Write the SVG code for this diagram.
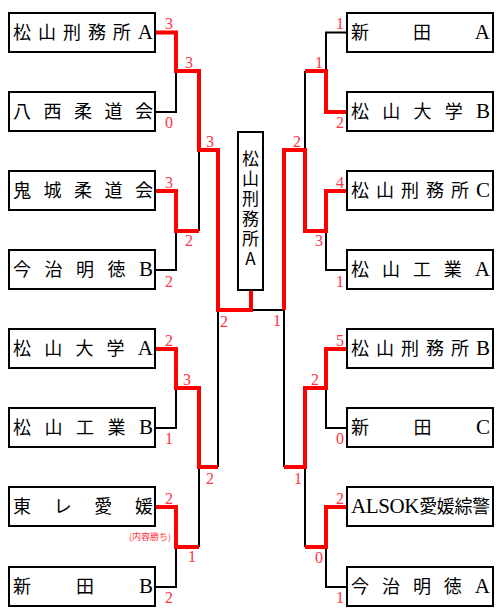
<svg xmlns="http://www.w3.org/2000/svg" width="504" height="614" viewBox="0 0 504 614">
<style>
.box{fill:#fff;stroke:#000;stroke-width:2}
.nm{font-family:'Liberation Serif','Noto Sans CJK JP',serif;font-size:18px;fill:#000}
.la{font-size:21px}
.bk{fill:none;stroke:#000;stroke-width:2}
.rd{fill:none;stroke:#ff0000;stroke-width:4}
.sc{font-family:'Liberation Serif',serif;font-size:16px;fill:#ff3344;text-anchor:middle}
.note{font-family:'Noto Sans CJK JP',sans-serif;font-size:9px;fill:#ff3344;text-anchor:middle}
.ch{font-family:'Noto Sans CJK JP',sans-serif;font-size:17px;fill:#000;writing-mode:vertical-rl;text-orientation:upright;letter-spacing:3px}
</style>
<rect width="504" height="614" fill="#fff"/>
<g id="connectors">
<path class="bk" d="M155,112H176V71M155,270H176V231M199,150V231M155,428H176V388M155,587H176V547M199,467V547M218,310V467M251,310H284M284,310V467M347,32.5H326V71M305,71V150M347,270H326V231M347,428H326V388M347,587H326V547M305,467V547"/>
<path class="rd" d="M155,32.5H176V71H199V150H218V310H251V290"/>
<path class="rd" d="M155,191H176V231H199"/>
<path class="rd" d="M155,349H176V388H199V467H218"/>
<path class="rd" d="M155,507H176V547H199"/>
<path class="rd" d="M284,310V150H305V231H326V191H347"/>
<path class="rd" d="M347,112H326V71H305"/>
<path class="rd" d="M284,467H305V388H326V349H347"/>
<path class="rd" d="M305,547H326V507H347"/>
</g>
<g id="L1"><rect class="box" x="9" y="13" width="146" height="39"/><text class="nm" x="13" y="39" textLength="140" lengthAdjust="spacing">松山刑務所<tspan class="la">A</tspan></text></g>
<g id="L2"><rect class="box" x="9" y="92" width="146" height="39"/><text class="nm" x="13" y="118" textLength="140" lengthAdjust="spacing">八西柔道会</text></g>
<g id="L3"><rect class="box" x="9" y="171" width="146" height="39"/><text class="nm" x="13" y="197" textLength="140" lengthAdjust="spacing">鬼城柔道会</text></g>
<g id="L4"><rect class="box" x="9" y="250" width="146" height="39"/><text class="nm" x="13" y="276" textLength="140" lengthAdjust="spacing">今治明徳<tspan class="la">B</tspan></text></g>
<g id="L5"><rect class="box" x="9" y="329" width="146" height="39"/><text class="nm" x="13" y="355" textLength="140" lengthAdjust="spacing">松山大学<tspan class="la">A</tspan></text></g>
<g id="L6"><rect class="box" x="9" y="408" width="146" height="39"/><text class="nm" x="13" y="434" textLength="140" lengthAdjust="spacing">松山工業<tspan class="la">B</tspan></text></g>
<g id="L7"><rect class="box" x="9" y="487" width="146" height="39"/><text class="nm" x="13" y="513" textLength="140" lengthAdjust="spacing">東レ愛媛</text></g>
<g id="L8"><rect class="box" x="9" y="567" width="146" height="39"/><text class="nm" x="13" y="593" textLength="140" lengthAdjust="spacing">新田<tspan class="la">B</tspan></text></g>
<g id="R1"><rect class="box" x="347" y="13" width="146" height="39"/><text class="nm" x="351" y="39" textLength="139" lengthAdjust="spacing">新田<tspan class="la">A</tspan></text></g>
<g id="R2"><rect class="box" x="347" y="92" width="146" height="39"/><text class="nm" x="351" y="118" textLength="139" lengthAdjust="spacing">松山大学<tspan class="la">B</tspan></text></g>
<g id="R3"><rect class="box" x="347" y="171" width="146" height="39"/><text class="nm" x="351" y="197" textLength="139" lengthAdjust="spacing">松山刑務所<tspan class="la">C</tspan></text></g>
<g id="R4"><rect class="box" x="347" y="250" width="146" height="39"/><text class="nm" x="351" y="276" textLength="139" lengthAdjust="spacing">松山工業<tspan class="la">A</tspan></text></g>
<g id="R5"><rect class="box" x="347" y="329" width="146" height="39"/><text class="nm" x="351" y="355" textLength="139" lengthAdjust="spacing">松山刑務所<tspan class="la">B</tspan></text></g>
<g id="R6"><rect class="box" x="347" y="408" width="146" height="39"/><text class="nm" x="351" y="434" textLength="139" lengthAdjust="spacing">新田<tspan class="la">C</tspan></text></g>
<g id="R7"><rect class="box" x="347" y="487" width="146" height="39"/><text class="nm" x="351" y="513" textLength="139" lengthAdjust="spacing"><tspan class="la">ALSOK</tspan>愛媛綜警</text></g>
<g id="R8"><rect class="box" x="347" y="567" width="146" height="39"/><text class="nm" x="351" y="593" textLength="139" lengthAdjust="spacing">今治明徳<tspan class="la">A</tspan></text></g>
<g id="champion"><rect class="box" x="238" y="132" width="25" height="158"/>
<text class="ch" x="250.5" y="150.5">松山刑務所A</text></g>
<g id="scores">
<text class="sc" x="169" y="29">3</text>
<text class="sc" x="169" y="128">0</text>
<text class="sc" x="189" y="68">3</text>
<text class="sc" x="210" y="147">3</text>
<text class="sc" x="169" y="188">3</text>
<text class="sc" x="189" y="246">2</text>
<text class="sc" x="169" y="287">2</text>
<text class="sc" x="224" y="327">2</text>
<text class="sc" x="169" y="346">2</text>
<text class="sc" x="187" y="385">3</text>
<text class="sc" x="169" y="444">1</text>
<text class="sc" x="210" y="484">2</text>
<text class="sc" x="169" y="504">2</text>
<text class="note" x="150" y="540">(内容勝ち)</text>
<text class="sc" x="192" y="562">1</text>
<text class="sc" x="169" y="603">2</text>
<text class="sc" x="340" y="29">1</text>
<text class="sc" x="319" y="68">1</text>
<text class="sc" x="340" y="128">2</text>
<text class="sc" x="297" y="147">2</text>
<text class="sc" x="340" y="188">4</text>
<text class="sc" x="319" y="246">3</text>
<text class="sc" x="340" y="287">1</text>
<text class="sc" x="277" y="326">1</text>
<text class="sc" x="340" y="346">5</text>
<text class="sc" x="315" y="385">2</text>
<text class="sc" x="340" y="444">0</text>
<text class="sc" x="298" y="484">1</text>
<text class="sc" x="340" y="504">2</text>
<text class="sc" x="319" y="563">0</text>
<text class="sc" x="340" y="603">1</text>
</g>
</svg>
